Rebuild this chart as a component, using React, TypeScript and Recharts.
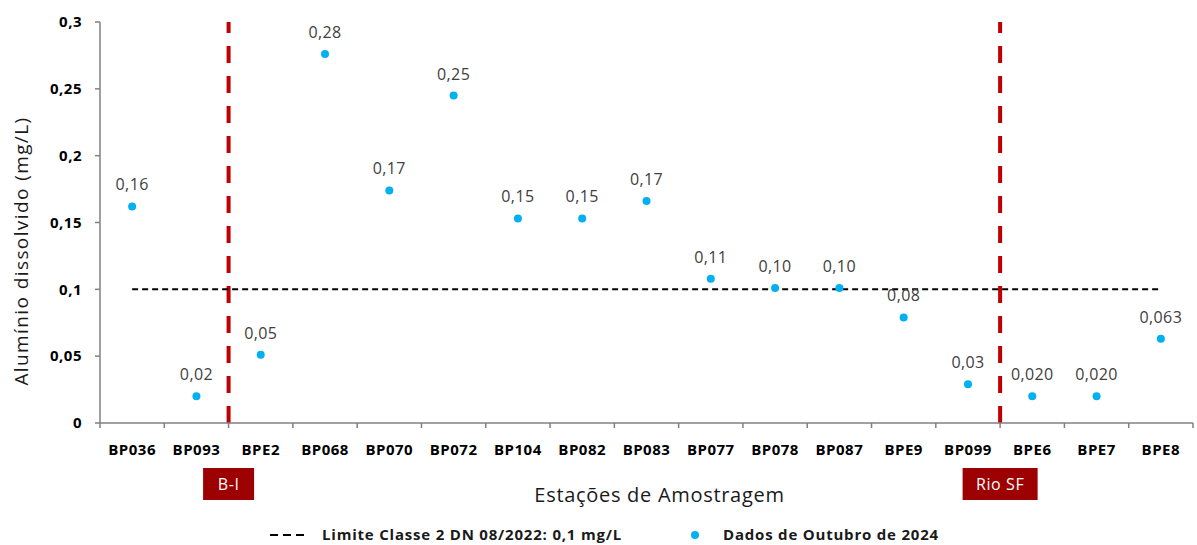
import {
  ComposedChart,
  Line,
  Scatter,
  XAxis,
  YAxis,
  ReferenceLine,
  Legend,
} from 'recharts'

const stations = [
  'BP036', 'BP093', 'BPE2', 'BP068', 'BP070', 'BP072', 'BP104', 'BP082', 'BP083',
  'BP077', 'BP078', 'BP087', 'BPE9', 'BP099', 'BPE6', 'BPE7', 'BPE8',
]
const aluminio = [
  0.162, 0.02, 0.051, 0.276, 0.174, 0.245, 0.153, 0.153, 0.166,
  0.108, 0.101, 0.101, 0.079, 0.029, 0.02, 0.02, 0.063,
]
const pointLabels = [
  '0,16', '0,02', '0,05', '0,28', '0,17', '0,25', '0,15', '0,15', '0,17',
  '0,11', '0,10', '0,10', '0,08', '0,03', '0,020', '0,020', '0,063',
]
const limite = 0.1
const yTicks = [0, 0.05, 0.1, 0.15, 0.2, 0.25, 0.3]
// divisão entre trechos: a linha fica no fim da banda da estação indicada
const divisionAfter = ['BP093', 'BP099']
const divisionNames = ['B-I', 'Rio SF']

const data = stations.map((station, i) => ({
  station,
  value: aluminio[i],
  label: pointLabels[i],
  limit: limite,
}))

const FONT = "'Open Sans', Lato, sans-serif"
const AXIS_GRAY = '#808080'
const BLUE = '#00B0F0'

const fmt = (v: number) => (v === 0 ? '0' : String(v).replace('.', ','))

function Dot(props: any) {
  const { cx, cy, payload } = props
  return (
    <g>
      <circle cx={cx} cy={cy} r={4} fill={BLUE} />
      <text
        x={cx}
        y={cy - 16}
        textAnchor="middle"
        fontFamily={FONT}
        fontSize={16}
        letterSpacing={0.4}
        fill="#404040"
      >
        {payload.label}
      </text>
    </g>
  )
}

function StationTick(props: any) {
  const { x, y, payload, index, width, visibleTicksCount } = props
  const band = (width || 1093) / (visibleTicksCount || stations.length)
  const last = index === (visibleTicksCount || stations.length) - 1
  return (
    <g>
      <line x1={x - band / 2} x2={x - band / 2} y1={y} y2={y + 5} stroke={AXIS_GRAY} strokeWidth={1.5} />
      {last && (
        <line x1={x + band / 2} x2={x + band / 2} y1={y} y2={y + 5} stroke={AXIS_GRAY} strokeWidth={1.5} />
      )}
      <text
        x={x}
        y={y + 32}
        textAnchor="middle"
        fontFamily={FONT}
        fontSize={15}
        fontWeight="bold"
        letterSpacing={0.5}
        fill="#000"
      >
        {payload.value}
      </text>
    </g>
  )
}

function ZoneBox({ viewBox, name }: any) {
  const w = name.length * 8 + 27
  const x = viewBox.x
  const y = viewBox.y + viewBox.height
  return (
    <g>
      <rect x={x - w / 2} y={y + 45} width={w} height={32} fill="#9C0000" />
      <text
        x={x}
        y={y + 67}
        textAnchor="middle"
        fontFamily={FONT}
        fontSize={16}
        letterSpacing={0.6}
        fill="#ffffff"
      >
        {name}
      </text>
    </g>
  )
}

function LegendContent() {
  return (
    <svg width={1197} height={42} style={{ display: 'block' }}>
      <line x1={270} x2={308} y1={32} y2={32} stroke="#000" strokeWidth={2} strokeDasharray="8 5" />
      <text x={322} y={37} fontFamily={FONT} fontSize={15} fontWeight="bold" letterSpacing={0.8} fill="#1a1a1a">
        Limite Classe 2 DN 08/2022: 0,1 mg/L
      </text>
      <circle cx={695} cy={32} r={4} fill={BLUE} />
      <text x={723} y={37} fontFamily={FONT} fontSize={15} fontWeight="bold" letterSpacing={0.8} fill="#1a1a1a">
        Dados de Outubro de 2024
      </text>
    </svg>
  )
}

export default function App() {
  return (
    <div style={{ position: 'absolute', left: 0, top: 0, background: '#fff' }}>
      <ComposedChart
        width={1197}
        height={545}
        data={data}
        margin={{ top: 22, right: 4, left: 0, bottom: 0 }}
        style={{ fontFamily: FONT }}
      >
        <XAxis
          dataKey="station"
          type="category"
          scale="band"
          height={80}
          axisLine={{ stroke: AXIS_GRAY, strokeWidth: 1.5 }}
          tickLine={false}
          tickSize={0}
          tickMargin={0}
          interval={0}
          tick={StationTick}
          label={(props: any) => {
            const vb = props.viewBox
            return (
              <text
                x={vb.x + vb.width / 2 + 13}
                y={vb.y + 79}
                textAnchor="middle"
                fontFamily={FONT}
                fontSize={20}
                letterSpacing={0.7}
                fill="#1a1a1a"
              >
                Estações de Amostragem
              </text>
            )
          }}
        />
        <YAxis
          width={100}
          domain={[0, 0.3]}
          ticks={yTicks}
          tickFormatter={fmt}
          tickSize={5}
          tickMargin={13}
          axisLine={{ stroke: AXIS_GRAY, strokeWidth: 1.5 }}
          tickLine={{ stroke: AXIS_GRAY, strokeWidth: 1.5 }}
          tick={{ fontSize: 15, fontWeight: 'bold', fill: '#000', fontFamily: FONT, letterSpacing: 0.5 }}
          label={() => (
            <text
              x={21}
              y={251}
              transform="rotate(-90 21 251)"
              textAnchor="middle"
              dominantBaseline="central"
              fontFamily={FONT}
              fontSize={19}
              letterSpacing={1.4}
              fill="#1a1a1a"
            >
              Alumínio dissolvido (mg/L)
            </text>
          )}
        />
        <Legend verticalAlign="bottom" height={42} wrapperStyle={{ left: 0, bottom: 0, width: 1197 }} content={LegendContent} />
        {divisionAfter.map((st, i) => (
          <ReferenceLine
            key={st}
            x={st}
            position="end"
            stroke="#C00000"
            strokeWidth={4}
            strokeDasharray="17 13"
            label={(p: any) => <ZoneBox viewBox={p.viewBox} name={divisionNames[i]} />}
          />
        ))}
        <Line
          dataKey="limit"
          stroke="#000"
          strokeWidth={2}
          strokeDasharray="6 4"
          dot={false}
          activeDot={false}
          isAnimationActive={false}
        />
        <Scatter dataKey="value" fill={BLUE} shape={Dot} isAnimationActive={false} />
      </ComposedChart>
    </div>
  )
}
